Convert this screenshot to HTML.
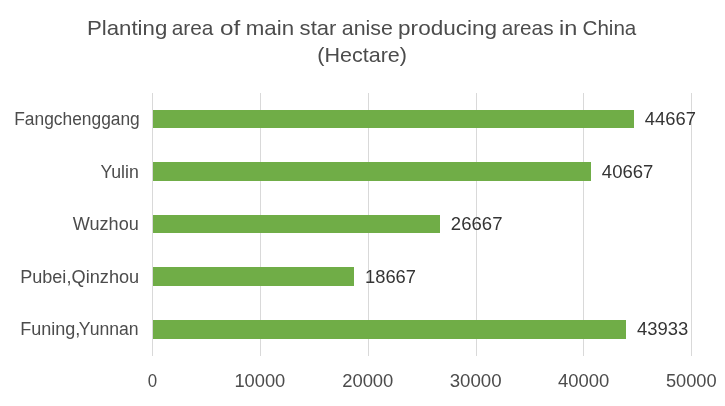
<!DOCTYPE html>
<html>
<head>
<meta charset="utf-8">
<title>Planting area of main star anise producing areas in China</title>
<style>
html,body{margin:0;padding:0;background:#fff;}
body{width:725px;height:406px;overflow:hidden;}
svg{display:block;}
text{font-family:"Liberation Sans",sans-serif;}
.t{font-size:21px;fill:#4c4c4c;}
.c{font-size:18px;fill:#4c4c4c;}
.d{font-size:19px;fill:#343434;}
.a{font-size:19px;fill:#4c4c4c;}
</style>
</head>
<body>
<svg width="725" height="406" viewBox="0 0 725 406">
<rect x="0" y="0" width="725" height="406" fill="#ffffff"/>
<g fill="#d9d9d9" shape-rendering="crispEdges">
<rect x="152" y="93" width="1" height="263"/>
<rect x="260" y="93" width="1" height="263"/>
<rect x="368" y="93" width="1" height="263"/>
<rect x="476" y="93" width="1" height="263"/>
<rect x="583" y="93" width="1" height="263"/>
<rect x="691" y="93" width="1" height="263"/>
</g>
<g fill="#70ad47" shape-rendering="crispEdges">
<rect x="153" y="110" width="481" height="18"/>
<rect x="153" y="162" width="438" height="19"/>
<rect x="153" y="215" width="287" height="18"/>
<rect x="153" y="267" width="201" height="19"/>
<rect x="153" y="320" width="473" height="19"/>
</g>
<text class="t" y="35.0"><tspan x="86.99" textLength="80.26" lengthAdjust="spacingAndGlyphs">Planting</tspan> <tspan x="171.73" textLength="41.69" lengthAdjust="spacingAndGlyphs">area</tspan> <tspan x="219.95" textLength="20.25" lengthAdjust="spacingAndGlyphs">of</tspan> <tspan x="245.80" textLength="48.33" lengthAdjust="spacingAndGlyphs">main</tspan> <tspan x="299.63" textLength="36.80" lengthAdjust="spacingAndGlyphs">star</tspan> <tspan x="341.84" textLength="51.08" lengthAdjust="spacingAndGlyphs">anise</tspan> <tspan x="398.09" textLength="99.06" lengthAdjust="spacingAndGlyphs">producing</tspan> <tspan x="501.73" textLength="51.76" lengthAdjust="spacingAndGlyphs">areas</tspan> <tspan x="559.04" textLength="18.31" lengthAdjust="spacingAndGlyphs">in</tspan> <tspan x="582.50" textLength="53.84" lengthAdjust="spacingAndGlyphs">China</tspan></text>
<text class="t" x="317.26" y="62.0" textLength="89.77" lengthAdjust="spacingAndGlyphs">(Hectare)</text>
<text class="c" x="14.26" y="125.0" textLength="125.52" lengthAdjust="spacingAndGlyphs">Fangchenggang</text>
<text class="c" x="100.39" y="178.0" textLength="38.40" lengthAdjust="spacingAndGlyphs">Yulin</text>
<text class="c" x="72.76" y="230.0" textLength="66.06" lengthAdjust="spacingAndGlyphs">Wuzhou</text>
<text class="c" y="283.0"><tspan x="20.21" textLength="51.20" lengthAdjust="spacingAndGlyphs">Pubei,</tspan><tspan x="71.58" textLength="67.62" lengthAdjust="spacingAndGlyphs">Qinzhou</tspan></text>
<text class="c" y="335.0"><tspan x="20.21" textLength="60.19" lengthAdjust="spacingAndGlyphs">Funing,</tspan><tspan x="78.87" textLength="59.77" lengthAdjust="spacingAndGlyphs">Yunnan</tspan></text>
<text class="d" x="644.85" y="125.0" textLength="51.08" lengthAdjust="spacingAndGlyphs">44667</text>
<text class="d" x="601.84" y="178.0" textLength="51.51" lengthAdjust="spacingAndGlyphs">40667</text>
<text class="d" x="450.85" y="230.0" textLength="51.63" lengthAdjust="spacingAndGlyphs">26667</text>
<text class="d" x="365.03" y="283.0" textLength="51.02" lengthAdjust="spacingAndGlyphs">18667</text>
<text class="d" x="636.97" y="335.0" textLength="51.17" lengthAdjust="spacingAndGlyphs">43933</text>
<text class="a" x="147.65" y="387.0" textLength="9.40" lengthAdjust="spacingAndGlyphs">0</text>
<text class="a" x="234.39" y="387.0" textLength="50.88" lengthAdjust="spacingAndGlyphs">10000</text>
<text class="a" x="342.15" y="387.0" textLength="51.22" lengthAdjust="spacingAndGlyphs">20000</text>
<text class="a" x="449.73" y="387.0" textLength="51.90" lengthAdjust="spacingAndGlyphs">30000</text>
<text class="a" x="558.06" y="387.0" textLength="51.30" lengthAdjust="spacingAndGlyphs">40000</text>
<text class="a" x="665.93" y="387.0" textLength="50.74" lengthAdjust="spacingAndGlyphs">50000</text>
</svg>
</body>
</html>
